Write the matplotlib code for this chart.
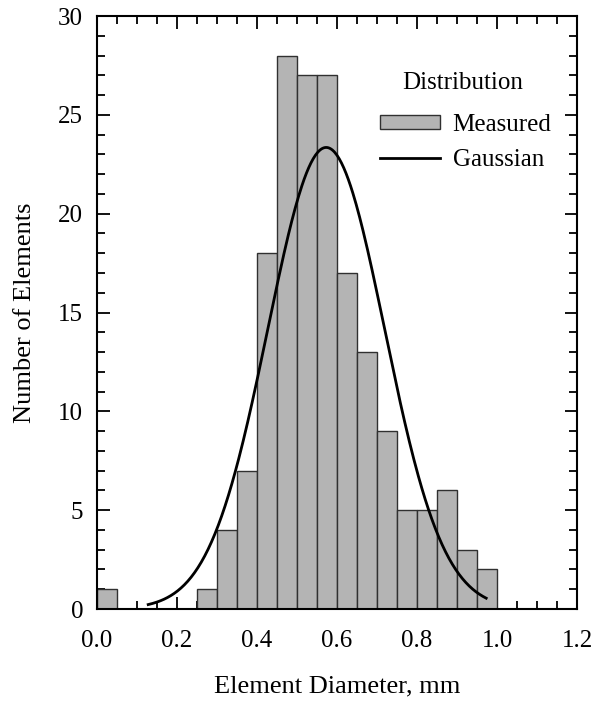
import numpy as np
import matplotlib
matplotlib.use("Agg")
import matplotlib.pyplot as plt
from matplotlib.ticker import MultipleLocator

# Data
bin_left_edges = [0.00, 0.05, 0.10, 0.15, 0.20, 0.25, 0.30, 0.35, 0.40, 0.45,
                  0.50, 0.55, 0.60, 0.65, 0.70, 0.75, 0.80, 0.85, 0.90, 0.95]
counts = [1, 0, 0, 0, 0, 1, 4, 7, 18, 28, 27, 27, 17, 13, 9, 5, 5, 6, 3, 2]
bin_width = 0.05

# Gaussian fit parameters
gauss_amp = 23.35
gauss_mean = 0.573
gauss_sigma = 0.146
gauss_xmin = 0.128
gauss_xmax = 0.973

x_ticks = [0.0, 0.2, 0.4, 0.6, 0.8, 1.0, 1.2]
x_ticklabels = ["0.0", "0.2", "0.4", "0.6", "0.8", "1.0", "1.2"]
y_ticks = [0, 5, 10, 15, 20, 25, 30]

plt.rcParams['font.family'] = ['Liberation Serif', 'DejaVu Serif']

fig = plt.figure(figsize=(6.01, 7.04), dpi=100)
ax = fig.add_axes([97/601, 1 - 609/704, 480/601, 593/704])

bars = ax.bar(bin_left_edges, counts, width=bin_width, align='edge',
              color='#b4b4b4', edgecolor='#303030', linewidth=1.0,
              label='Measured', zorder=2)

gx = np.linspace(gauss_xmin, gauss_xmax, 300)
gy = gauss_amp * np.exp(-(gx - gauss_mean) ** 2 / (2 * gauss_sigma ** 2))
line, = ax.plot(gx, gy, color='black', linewidth=2.0, label='Gaussian', zorder=3)

ax.set_xlim(0, 1.2)
ax.set_ylim(0, 30)
ax.set_xticks(x_ticks)
ax.set_xticklabels(x_ticklabels)
ax.set_yticks(y_ticks)
ax.xaxis.set_minor_locator(MultipleLocator(0.05))
ax.yaxis.set_minor_locator(MultipleLocator(1))
ax.tick_params(which='both', direction='in', top=True, right=True,
               labelsize=18, width=1.3, color='black')
ax.tick_params(which='major', length=9)
ax.tick_params(axis='x', which='major', pad=15)
ax.tick_params(axis='y', which='major', pad=10)
ax.tick_params(which='minor', length=6)
for s in ax.spines.values():
    s.set_linewidth(1.5)

ax.set_xlabel('Element Diameter, mm', fontsize=19, labelpad=17)
ax.set_ylabel('Number of Elements', fontsize=19, labelpad=16)

ax.text(0.7625, 0.887, 'Distribution', transform=ax.transAxes,
        ha='center', va='center', fontsize=18)
leg = ax.legend(handles=[bars, line], labels=['Measured', 'Gaussian'],
                frameon=False, fontsize=18,
                loc='upper left', bbox_to_anchor=(0.569, 0.852),
                handlelength=2.4, handleheight=0.5, handletextpad=0.5,
                labelspacing=0.52, borderaxespad=0)

fig.savefig('out.png', dpi=100)
